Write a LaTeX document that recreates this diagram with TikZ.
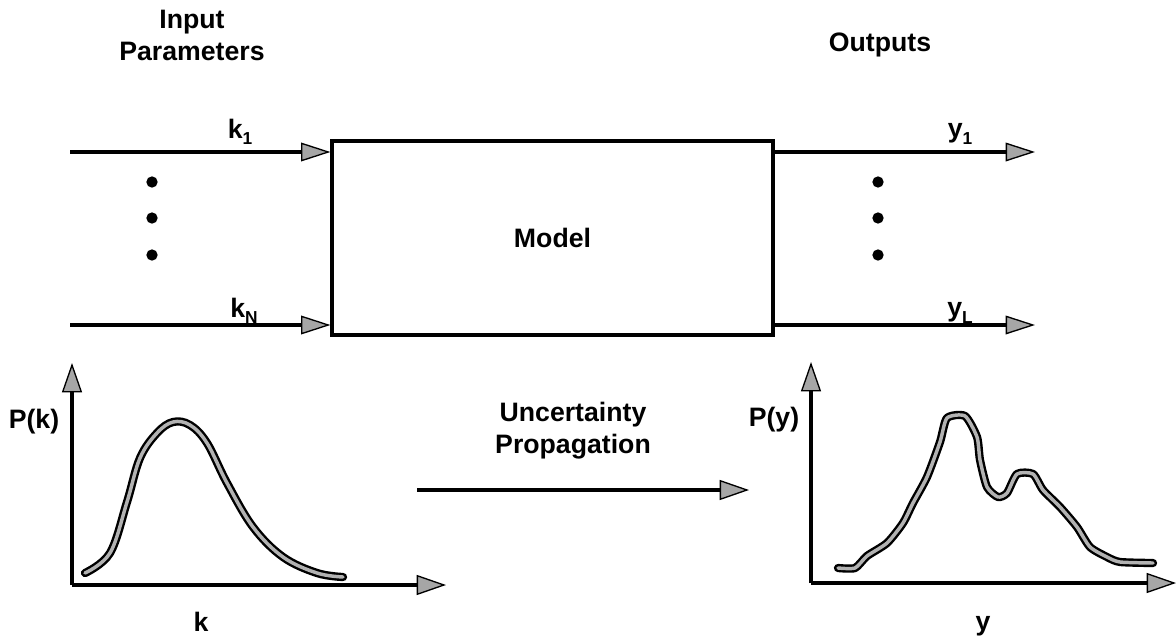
\documentclass[tikz,border=0pt]{standalone}
\usepackage{fontspec}
\setmainfont{Liberation Sans}
\usetikzlibrary{arrows.meta}
\tikzset{
  lbl/.style={font=\fontsize{20}{24}\selectfont\bfseries, inner sep=0pt, align=center},
  conn/.style={line width=2.4pt, -{Triangle[length=22pt,width=14pt,fill=gray!70,line width=1pt]}},
  axis/.style={line width=2.4pt, -{Triangle[length=22pt,width=15pt,fill=gray!70,line width=1pt]}},
  dens/.style={line width=1.8pt, draw=black, double=gray!60, double distance=2.6pt, line cap=round, line join=round},
  dot/.style={circle, fill=black, inner sep=0pt, minimum size=8.5pt},
  modelbox/.style={draw, line width=2.4pt, minimum width=330.75pt, minimum height=145.5pt, inner sep=0pt}
}
\newcommand{\subl}[2]{#1\raisebox{-0.45ex}{\fontsize{13}{13}\selectfont #2}}
\begin{document}
\begin{tikzpicture}[x=0.75pt,y=-0.75pt]
\useasboundingbox (0,0) rectangle (1176,639);
\fill[white] (0,0) rectangle (1176,639);
% titles
\node[lbl] (inp) at (192,35) {Input\\Parameters};
\node[lbl] (outp) at (880,45) {Outputs};
% model
\node[modelbox, lbl] (model) at (552.5,238) {Model};
% input arrows
\coordinate (k1s) at (70,152);
\coordinate (kNs) at (70,325);
\draw[conn] (k1s) -- (k1s -| model.west);
\draw[conn] (kNs) -- (kNs -| model.west);
\node[lbl] (k1) at (240,132) {\subl{k}{1}};
\node[lbl] (kN) at (244,311) {\subl{k}{N}};
% output arrows
\coordinate (y1e) at (1035,152);
\coordinate (yLe) at (1035,325);
\draw[conn] (y1e -| model.east) -- (y1e);
\draw[conn] (yLe -| model.east) -- (yLe);
\node[lbl] (y1) at (960,134) {\subl{y}{1}};
\node[lbl] (yL) at (960,313) {\subl{y}{L}};
% dots
\node[dot] (ld1) at (152,182) {};
\node[dot] (ld2) at (152,218) {};
\node[dot] (ld3) at (152,255) {};
\node[dot] (rd1) at (878,182) {};
\node[dot] (rd2) at (878,218) {};
\node[dot] (rd3) at (878,255) {};
% left plot
\coordinate (lo) at (72,585);
\coordinate (ly) at (72,363);
\coordinate (lx) at (446,585);
\draw[axis] (lo) -- (ly);
\draw[axis] (lo) -- (lx);
\node[lbl] (pk) at (34,422) {P(k)};
\node[lbl] (kx) at (201,622) {k};
\draw[dens] plot[smooth, tension=0.6] coordinates {(85,573) (110,553) (127,502) (140,458) (157,433) (173,422) (190,425) (207,443) (227,483) (253,527) (283,557) (317,573) (343,577)};
% middle arrow
\coordinate (ms) at (417,490);
\coordinate (me) at (749,490);
\draw[axis, line width=3.4pt] (ms) -- (me);
\node[lbl] (unc) at (573,431) {Uncertainty\\Propagation};
% right plot
\coordinate (ro) at (811,583);
\coordinate (ry) at (811,362);
\coordinate (rx) at (1176,583);
\draw[axis] (ro) -- (ry);
\draw[axis] (ro) -- (rx);
\node[lbl] (py) at (774,420) {P(y)};
\node[lbl] (yx) at (983,626) {y};
\draw[dens] plot[smooth, tension=0.4] coordinates {(838,568) (855,568) (867,556) (887,543) (903,523) (913,503) (927,477) (940,442) (947,418) (965,416) (977,437) (980,460) (987,487) (998,497) (1007,493) (1017,474) (1033,474) (1043,490) (1060,507) (1077,527) (1090,547) (1107,557) (1120,562) (1153,563)};
\end{tikzpicture}
\end{document}
